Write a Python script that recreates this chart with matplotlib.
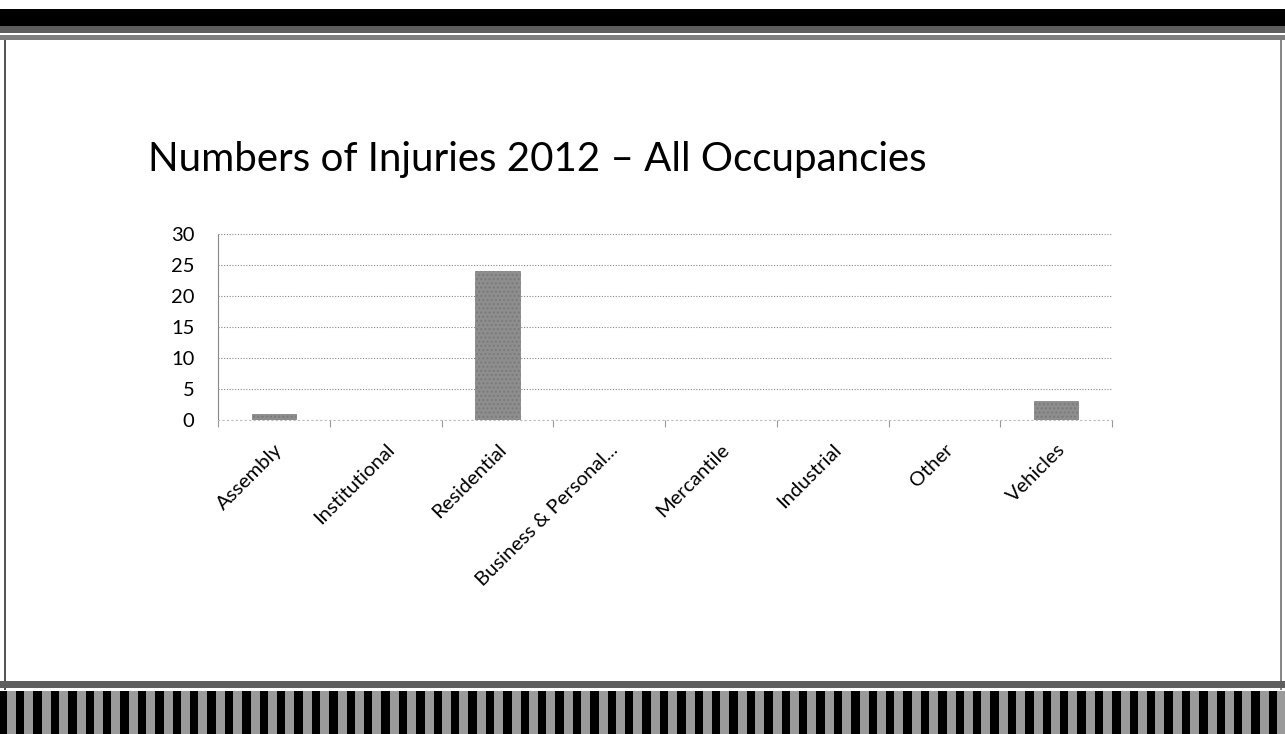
import matplotlib
matplotlib.use("Agg")
import matplotlib.pyplot as plt
from matplotlib.patches import Rectangle
import numpy as np

categories = ["Assembly", "Institutional", "Residential", "Business & Personal...",
              "Mercantile", "Industrial", "Other", "Vehicles"]
injuries = [1, 0, 24, 0, 0, 0, 0, 3]
y_ticks = [0, 5, 10, 15, 20, 25, 30]
title = "Numbers of Injuries 2012 \u2013 All Occupancies"

plt.rcParams['font.family'] = ['Lato', 'DejaVu Sans']
plt.rcParams['hatch.color'] = "#5a5a5a"

W, H = 1285, 734
fig = plt.figure(figsize=(W / 100, H / 100), dpi=100)
fig.patch.set_facecolor("white")

def box(x, y, w, h, color, **kw):
    # x, y in pixels from top-left
    fig.patches.append(Rectangle((x / W, 1 - (y + h) / H), w / W, h / H,
                                 transform=fig.transFigure, facecolor=color,
                                 edgecolor="none", **kw))

# top border
box(0, 9, W, 17, "black")
box(0, 26, W, 7, "#5e5e5e")
box(0, 35, W, 5, "#7e7e7e")
# side borders
box(4, 40, 2, 650, "#555555")
box(1280, 40, 2, 650, "#888888")
# bottom border
box(0, 681, W, 7, "#5e5e5e")
box(0, 691, W, 43, "black")
xs = 7
while xs < W:
    box(xs, 691, 9, 43, "#9a9a9a")
    xs += 17.4

ax = fig.add_axes([218 / W, 1 - 420 / H, (1112 - 218) / W, (420 - 234) / H])
x = np.arange(len(categories))
ax.bar(x, injuries, width=0.4, color="#8e8e8e", edgecolor="#7a7a7a", linewidth=0.5,
       hatch="....", zorder=3)

ax.set_xlim(-0.5, len(categories) - 0.5)
ax.set_ylim(0, 30)
ax.set_yticks(y_ticks)
ax.set_yticklabels([str(v) for v in y_ticks], fontsize=14.5)
ax.tick_params(axis="y", length=0, pad=17)
ax.grid(axis="y", linestyle=(0, (1, 1.5)), color="#888888", linewidth=0.8, zorder=0)

ax.set_xticks(x)
ax.set_xticklabels(categories, rotation=45, ha="right", rotation_mode="anchor",
                   fontsize=14.5)
ax.tick_params(axis="x", length=0, pad=15)
# boundary tick marks
ax.set_xticks(np.arange(len(categories) + 1) - 0.5, minor=True)
ax.tick_params(axis="x", which="minor", length=5, width=0.8, color="#999999", direction="out")

for s in ["top", "right"]:
    ax.spines[s].set_visible(False)
ax.spines["left"].set_linestyle((0, (1, 1)))
ax.spines["left"].set_color("#888888")
ax.spines["bottom"].set_linestyle((0, (1, 3)))
ax.spines["bottom"].set_color("#bbbbbb")

fig.text(148 / W, 1 - 171 / H, title, fontsize=29, va="baseline", ha="left", color="black")

fig.savefig("out.png", dpi=100)
